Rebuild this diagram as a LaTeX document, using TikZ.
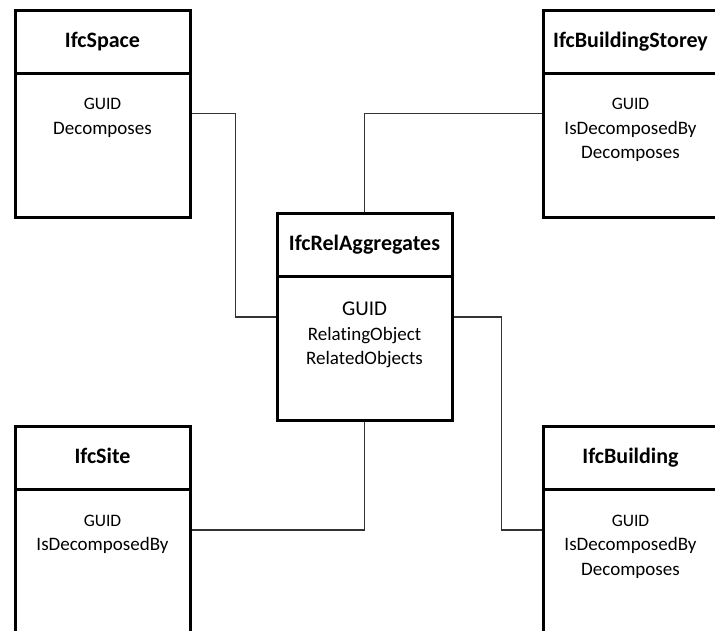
\documentclass[tikz,border=0pt]{standalone}
\usepackage{fontspec}
\setmainfont{Carlito}[Ligatures=NoCommon]
\usetikzlibrary{positioning,shapes.multipart}
\newcommand{\ifcname}[1]{\parbox[c][60pt][c]{175pt}{\centering\fontsize{22}{26}\selectfont\bfseries #1\vphantom{Ifg}}}
\newcommand{\ifcattr}[1]{\parbox[t][141pt][t]{175pt}{\centering\fontsize{19}{24.5}\selectfont\vspace*{24pt}#1}}
\newcommand{\guid}[1][17.5]{{\fontsize{#1}{24.5}\selectfont GUID}}

\begin{document}
\begin{tikzpicture}[x=1pt, y=-1pt,
  ifcclass/.style={rectangle split, rectangle split parts=2, draw, line width=3pt, inner sep=0pt},
  link/.style={line width=1.6pt, black!80}]
\useasboundingbox (0,0) rectangle (715,630);
\clip (0,0) rectangle (715,630);
\node [ifcclass] (space) at (102.5,113.5) {\ifcname{IfcSpace}\nodepart{second}\ifcattr{\guid\\Decomposes}};
\node [ifcclass] (storey) at (630.5,113.5) {\ifcname{IfcBuildingStorey}\nodepart{second}\ifcattr{\guid\\IsDecomposedBy\\Decomposes}};
\node [ifcclass] (relagg) at (364.5,317) {\ifcname{IfcRelAggregates}\nodepart{second}\ifcattr{\guid[21]\\RelatingObject\\RelatedObjects}};
\node [ifcclass] (site) at (102.5,530) {\ifcname{IfcSite}\nodepart{second}\ifcattr{\guid\\IsDecomposedBy}};
\node [ifcclass] (building) at (630.5,530) {\ifcname{IfcBuilding}\nodepart{second}\ifcattr{\guid\\IsDecomposedBy\\Decomposes}};
% aggregation links
\draw[link] (space.east) -- ++(44,0) |- (relagg.west);
\draw[link] (storey.west) -| (relagg.north);
\draw[link] (relagg.south) |- (site.east);
\draw[link] (relagg.east) -- ++(48,0) |- (building.west);
\end{tikzpicture}
\end{document}
